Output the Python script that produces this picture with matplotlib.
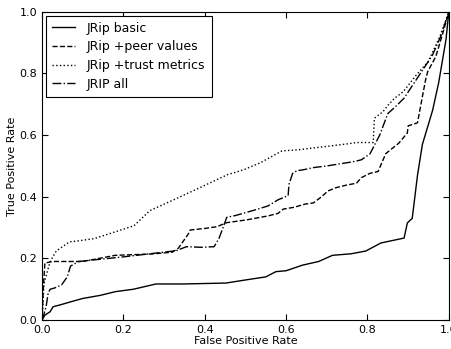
import matplotlib
matplotlib.use("Agg")
import matplotlib.pyplot as plt

basic_x = [0, 0.007, 0.02, 0.027, 0.044, 0.073, 0.10, 0.143, 0.18, 0.225, 0.28, 0.347, 0.452,
           0.50, 0.55, 0.575, 0.60, 0.64, 0.68, 0.714, 0.76, 0.796, 0.833, 0.89, 0.898, 0.91,
           0.923, 0.935, 0.96, 0.975, 0.993, 1.0]
basic_y = [0, 0.016, 0.027, 0.043, 0.049, 0.06, 0.07, 0.08, 0.092, 0.10, 0.117, 0.117, 0.12,
           0.13, 0.14, 0.157, 0.16, 0.178, 0.19, 0.21, 0.215, 0.224, 0.25, 0.266, 0.315, 0.33,
           0.47, 0.57, 0.68, 0.77, 0.91, 1.0]

peer_x = [0, 0.003, 0.007, 0.027, 0.10, 0.18, 0.265, 0.32, 0.335, 0.36, 0.364, 0.405, 0.43,
          0.454, 0.503, 0.556, 0.58, 0.593, 0.62, 0.646, 0.667, 0.687, 0.703, 0.724, 0.749,
          0.773, 0.785, 0.806, 0.826, 0.845, 0.877, 0.898, 0.90, 0.923, 0.935, 0.943, 0.948,
          0.968, 0.985, 1.0]
peer_y = [0, 0.10, 0.185, 0.19, 0.19, 0.21, 0.214, 0.22, 0.233, 0.28, 0.292, 0.298, 0.303,
          0.316, 0.325, 0.338, 0.346, 0.36, 0.366, 0.376, 0.38, 0.40, 0.419, 0.43, 0.438,
          0.444, 0.462, 0.476, 0.482, 0.54, 0.574, 0.607, 0.63, 0.64, 0.725, 0.78, 0.806,
          0.855, 0.93, 1.0]

trust_x = [0, 0.005, 0.02, 0.035, 0.068, 0.084, 0.128, 0.226, 0.265, 0.345, 0.458, 0.47, 0.50,
           0.536, 0.59, 0.627, 0.747, 0.773, 0.814, 0.817, 0.838, 0.851, 0.867, 0.888, 0.904,
           0.92, 0.949, 0.978, 1.0]
trust_y = [0, 0.12, 0.19, 0.224, 0.254, 0.256, 0.264, 0.306, 0.355, 0.403, 0.473, 0.477, 0.49,
           0.51, 0.549, 0.552, 0.571, 0.576, 0.576, 0.655, 0.676, 0.698, 0.72, 0.741, 0.768,
           0.795, 0.838, 0.92, 1.0]

all_x = [0, 0.005, 0.01, 0.015, 0.02, 0.031, 0.048, 0.062, 0.07, 0.09, 0.2, 0.33, 0.355, 0.392,
         0.423, 0.435, 0.445, 0.454, 0.478, 0.507, 0.523, 0.555, 0.58, 0.605, 0.607, 0.616,
         0.627, 0.64, 0.669, 0.70, 0.728, 0.757, 0.773, 0.785, 0.806, 0.83, 0.85, 0.867, 0.89,
         0.93, 0.96, 0.98, 1.0]
all_y = [0, 0.02, 0.043, 0.087, 0.10, 0.104, 0.114, 0.14, 0.175, 0.19, 0.205, 0.225, 0.238, 0.236,
         0.238, 0.265, 0.30, 0.333, 0.34, 0.351, 0.357, 0.37, 0.39, 0.404, 0.44, 0.476,
         0.485, 0.487, 0.495, 0.50, 0.506, 0.512, 0.516, 0.52, 0.539, 0.60, 0.67, 0.69, 0.72,
         0.80, 0.86, 0.92, 1.0]

labels = ["JRip basic", "JRip +peer values", "JRip +trust metrics", "JRIP all"]
styles = ["-", "--", ":", "-."]

fig = plt.figure(figsize=(4.52, 3.49), dpi=100)
ax = fig.add_axes([0.093, 0.083, 0.9, 0.883])
for (xs, ys), lab, ls in zip([(basic_x, basic_y), (peer_x, peer_y), (trust_x, trust_y), (all_x, all_y)],
                             labels, styles):
    ax.plot(xs, ys, color="black", linestyle=ls, linewidth=1.0, label=lab)

ax.set_xlim(0, 1)
ax.set_ylim(0, 1)
ax.set_xticks([0, 0.2, 0.4, 0.6, 0.8, 1.0])
ax.set_yticks([0, 0.2, 0.4, 0.6, 0.8, 1.0])
ax.tick_params(direction="in", top=True, right=True, labelsize=8, length=4)
ax.set_xlabel("False Positive Rate", fontsize=8, labelpad=1)
ax.set_ylabel("True Positive Rate", fontsize=8, labelpad=2)
leg = ax.legend(loc="upper left", fontsize=9, fancybox=False, edgecolor="black",
                framealpha=1, handlelength=1.8, handletextpad=1.0, borderaxespad=0.3,
                labelspacing=0.45, borderpad=0.5)
leg.get_frame().set_linewidth(0.8)
fig.savefig("out.png", dpi=100)
